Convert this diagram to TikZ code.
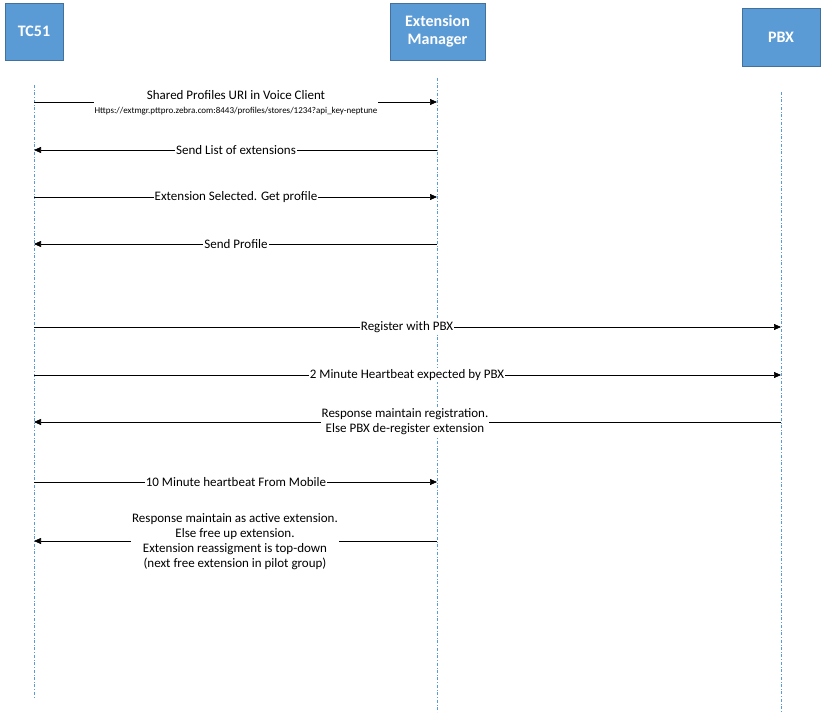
\documentclass[tikz,border=0pt]{standalone}
\usepackage{fontspec}
\setmainfont{Carlito}
\usetikzlibrary{arrows.meta, positioning}
\definecolor{boxblue}{HTML}{5B9BD5}
\definecolor{boxline}{HTML}{41719C}

\begin{document}
\begin{tikzpicture}[x=1pt, y=-1pt,
  actor/.style={draw=boxline, fill=boxblue, text=white, font=\fontsize{16}{18}\selectfont\bfseries, align=center, inner sep=0pt},
  lifeline/.style={draw=boxblue, dash dot, line width=0.6pt},
  msg/.style={-{Triangle[length=7pt, width=6pt]}, line width=0.6pt},
  lbl/.style={fill=white, font=\fontsize{13}{15}\selectfont, align=center, inner sep=1pt}
  ]
  \useasboundingbox (0,0) rectangle (825,714);

  % Actors
  \node[actor, minimum width=58pt, minimum height=57pt] (tc) at (34,31.5) {TC51};
  \node[actor, minimum width=95pt, minimum height=57pt] (em) at (437.5,31.5) {Extension\\Manager};
  \node[actor, minimum width=78pt, minimum height=58pt] (pbx) at (781,37) {PBX};

  % Lifelines
  \coordinate (tctop) at (34,85);   \coordinate (tcbot) at (34,697);
  \coordinate (emtop) at (437,78);  \coordinate (embot) at (437,712);
  \coordinate (pbxtop) at (781,92); \coordinate (pbxbot) at (781,712);
  \draw[lifeline] (tctop) -- (tcbot);
  \draw[lifeline] (emtop) -- (embot);
  \draw[lifeline] (pbxtop) -- (pbxbot);

  % Messages
  \coordinate (t1) at (34,102);  \coordinate (e1) at (437,102);
  \draw[msg] (t1) -- (e1);
  \node[lbl] (m1) at (236,103) {Shared Profiles URI in Voice Client\\[-1pt]{\fontsize{9}{11}\selectfont Https://extmgr.pttpro.zebra.com:8443/profiles/stores/1234?api\_key-neptune}};

  \coordinate (t2) at (34,150);  \coordinate (e2) at (437,150);
  \draw[msg] (e2) -- (t2);
  \node[lbl] (m2) at (236,150) {Send List of extensions};

  \coordinate (t3) at (34,197);  \coordinate (e3) at (437,197);
  \draw[msg] (t3) -- (e3);
  \node[lbl] (m3) at (236,197) {Extension Selected. Get profile};

  \coordinate (t4) at (34,244);  \coordinate (e4) at (437,244);
  \draw[msg] (e4) -- (t4);
  \node[lbl] (m4) at (236,244) {Send Profile};

  \coordinate (t5) at (34,327);  \coordinate (p5) at (781,327);
  \draw[msg] (t5) -- (p5);
  \node[lbl] (m5) at (407,327) {Register with PBX};

  \coordinate (t6) at (34,375);  \coordinate (p6) at (781,375);
  \draw[msg] (t6) -- (p6);
  \node[lbl] (m6) at (407,375) {2 Minute Heartbeat expected by PBX};

  \coordinate (t7) at (34,422);  \coordinate (p7) at (781,422);
  \draw[msg] (p7) -- (t7);
  \node[lbl] (m7) at (405,422) {Response maintain registration.\\Else PBX de-register extension};

  \coordinate (t8) at (34,482);  \coordinate (e8) at (437,482);
  \draw[msg] (t8) -- (e8);
  \node[lbl] (m8) at (236,482) {10 Minute heartbeat From Mobile};

  \coordinate (t9) at (34,541);  \coordinate (e9) at (437,541);
  \draw[msg] (e9) -- (t9);
  \node[lbl] (m9) at (235,542) {Response maintain as active extension.\\Else free up extension.\\Extension reassigment is top-down\\(next free extension in pilot group)};

\end{tikzpicture}
\end{document}
